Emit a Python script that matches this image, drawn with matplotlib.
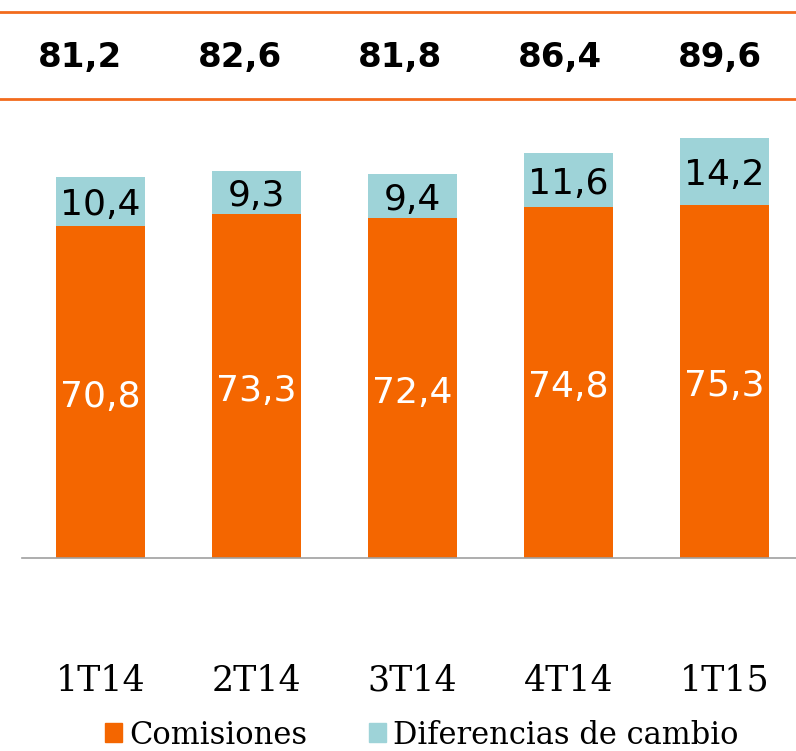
import matplotlib
matplotlib.use("Agg")
import matplotlib.pyplot as plt
from matplotlib.patches import Patch
from matplotlib.lines import Line2D

quarters = ['1T14', '2T14', '3T14', '4T14', '1T15']
comisiones = [70.8, 73.3, 72.4, 74.8, 75.3]
diferencias = [10.4, 9.3, 9.4, 11.6, 14.2]
totals = ['81,2', '82,6', '81,8', '86,4', '89,6']

orange = '#F46600'
teal = '#9ED3D8'

fig = plt.figure(figsize=(7.96, 7.51), dpi=100)
ax = fig.add_axes([22 / 796, 1 - 558 / 751, 1 - 22 / 796, 438 / 751])

x = list(range(len(quarters)))
ax.bar(x, comisiones, width=0.57, color=orange)
ax.bar(x, diferencias, width=0.57, bottom=comisiones, color=teal)

for i in x:
    ax.text(i, comisiones[i] / 2 - 1.0, f'{comisiones[i]:.1f}'.replace('.', ','),
            ha='center', va='center', color='white', fontsize=26)
    ax.text(i, comisiones[i] + diferencias[i] / 2 - 0.8, f'{diferencias[i]:.1f}'.replace('.', ','),
            ha='center', va='center', color='black', fontsize=26)

# totals in the header band (sit on their own grid, a bit left of the bars)
for i, t in enumerate(totals):
    fig.text((80 + 160 * i) / 796, 1 - 57 / 751, t, ha='center', va='center',
             fontsize=24.5, fontweight='bold', color='black')

for yy in (1 - 12 / 751, 1 - 99 / 751):
    fig.add_artist(Line2D([0, 1], [yy, yy], transform=fig.transFigure,
                          color='#F26B1D', linewidth=2))

ax.set_xlim(-0.503, 4.458)
ax.set_ylim(0, 93.4)
ax.set_yticks([])
ax.set_xticks(x)
ax.set_xticklabels(quarters, fontsize=25, family='DejaVu Serif')
ax.tick_params(axis='x', length=0, pad=76)
for s in ['top', 'right', 'left']:
    ax.spines[s].set_visible(False)
ax.spines['bottom'].set_color('#A0A0A0')
ax.spines['bottom'].set_linewidth(1.2)

handles = [Patch(color=orange, label='Comisiones'),
           Patch(color=teal, label='Diferencias de cambio')]
fig.legend(handles=handles, loc='center', bbox_to_anchor=(0.53, 1 - 735 / 751),
           ncol=2, frameon=False, handlelength=0.55, handleheight=0.55,
           handletextpad=0.25, columnspacing=2.0,
           prop={'family': 'DejaVu Serif', 'size': 22})

fig.savefig('out.png', dpi=100)
